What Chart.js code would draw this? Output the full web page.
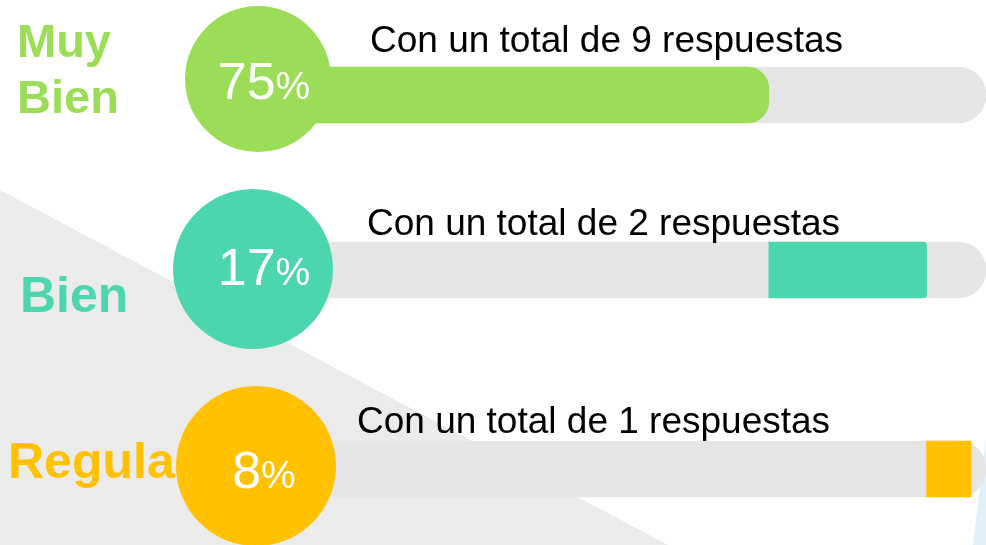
<!DOCTYPE html>
<html>
<head>
<meta charset="utf-8">
<script src="https://cdn.jsdelivr.net/npm/chart.js@4.4.1/dist/chart.umd.min.js"></script>
<style>
  html, body { margin: 0; padding: 0; width: 986px; height: 545px; overflow: hidden; background: #ffffff; }
  .bg_tri { position: absolute; left: 0; top: 0; width: 986px; height: 545px; background: #ebebeb;
            clip-path: polygon(0 190px, 668px 545px, 0 545px); }
  .bg_blue { position: absolute; left: 0; top: 0; width: 986px; height: 545px; background: #e0f0f8;
             clip-path: polygon(973px 545px, 986px 440px, 986px 545px); }
  .row { position: absolute; left: 0; width: 986px; height: 180px; }
</style>
</head>
<body>
<div class="bg_tri"></div>
<div class="bg_blue"></div>
<div class="row" id="row0"><canvas id="chart0"></canvas></div>
<div class="row" id="row1"><canvas id="chart1"></canvas></div>
<div class="row" id="row2"><canvas id="chart2"></canvas></div>
<script>
// data
const categories = ["Muy Bien", "Bien", "Regular"];
const percentages = [75, 17, 8];
const responses = [9, 2, 1];
const barStart = [20, 75, 92];     // green starts hidden under the circle
const barEnd = [75, 92, 96.8];
const trackStart = 20;

// look & layout
const colors = ["#9bdd56", "#4cd6b0", "#ffc100"];
const trackColor = "#e5e5e5";
const xMin = -7.87, xMax = 98.4;
const rowCenter = [95, 270, 469];
const barRadius = [22, 4, 0];

const labelSize = [47, 50, 50];
const labelX = [17, 20, 8];
const labelDy = [-38, 42, 9];
const circleX = [258, 253, 256];
const circleDy = [-16, -1, -3];
const circleR = [73, 80, 80];
const pctDy = [4, 15, 19];
const textX = [370, 367, 357];
const textDy = [-43, -35, -36];

const FONT = "'Liberation Sans', Arial, sans-serif";

function rowDeco(i) {
    return {
        id: "rowDeco" + i,
        beforeDatasetsDraw(chart) {
            const ctx = chart.ctx;
            const yc = chart.scales.y.getPixelForValue(0);
            ctx.save();
            ctx.fillStyle = colors[i];
            ctx.font = "bold " + labelSize[i] + "px " + FONT;
            ctx.textBaseline = "alphabetic";
            const lines = i === 0 ? categories[i].split(" ") : [categories[i]];
            lines.forEach((ln, k) => ctx.fillText(ln, labelX[i], yc + labelDy[i] + k * 56));
            ctx.restore();
        },
        afterDatasetsDraw(chart) {
            const ctx = chart.ctx;
            const yc = chart.scales.y.getPixelForValue(0);
            ctx.save();
            // circle
            ctx.fillStyle = colors[i];
            ctx.beginPath();
            ctx.arc(circleX[i], yc + circleDy[i], circleR[i], 0, Math.PI * 2);
            ctx.fill();
            // percentage
            ctx.fillStyle = "#ffffff";
            ctx.textBaseline = "alphabetic";
            const num = String(percentages[i]);
            ctx.font = "52px " + FONT;
            const w1 = ctx.measureText(num).width;
            ctx.font = "39px " + FONT;
            const w2 = ctx.measureText("%").width;
            const x0 = 264 - (w1 + w2) / 2;
            ctx.font = "52px " + FONT;
            ctx.fillText(num, x0, yc + pctDy[i]);
            ctx.font = "39px " + FONT;
            ctx.fillText("%", x0 + w1, yc + pctDy[i]);
            // responses text
            ctx.fillStyle = "#000000";
            ctx.font = "37px " + FONT;
            ctx.fillText("Con un total de " + responses[i] + " respuestas", textX[i], yc + textDy[i]);
            ctx.restore();
        }
    };
}

const charts = [];
categories.forEach((cat, i) => {
    document.getElementById("row" + i).style.top = (rowCenter[i] - 90) + "px";
    charts.push(new Chart(document.getElementById("chart" + i), {
        type: "bar",
        data: {
            labels: [cat],
            datasets: [{
                label: cat,
                data: [[barStart[i], barEnd[i]]],
                backgroundColor: colors[i],
                barThickness: 56,
                borderSkipped: false,
                borderRadius: { topLeft: 0, bottomLeft: 0, topRight: barRadius[i], bottomRight: barRadius[i] },
                order: 1,
            }, {
                label: "track",
                data: [[trackStart, xMax]],
                backgroundColor: trackColor,
                barThickness: 56,
                borderSkipped: false,
                borderRadius: { topLeft: 0, bottomLeft: 0, topRight: 28, bottomRight: 28 },
                order: 2,
            }],
        },
        options: {
            indexAxis: "y",
            responsive: true,
            maintainAspectRatio: false,
            animation: false,
            layout: { padding: 0 },
            datasets: { bar: { grouped: false } },
            plugins: { legend: { display: false }, tooltip: { enabled: false } },
            scales: {
                x: { display: false, min: xMin, max: xMax },
                y: { display: false },
            },
        },
        plugins: [rowDeco(i)],
    }));
});
</script>
</body>
</html>
